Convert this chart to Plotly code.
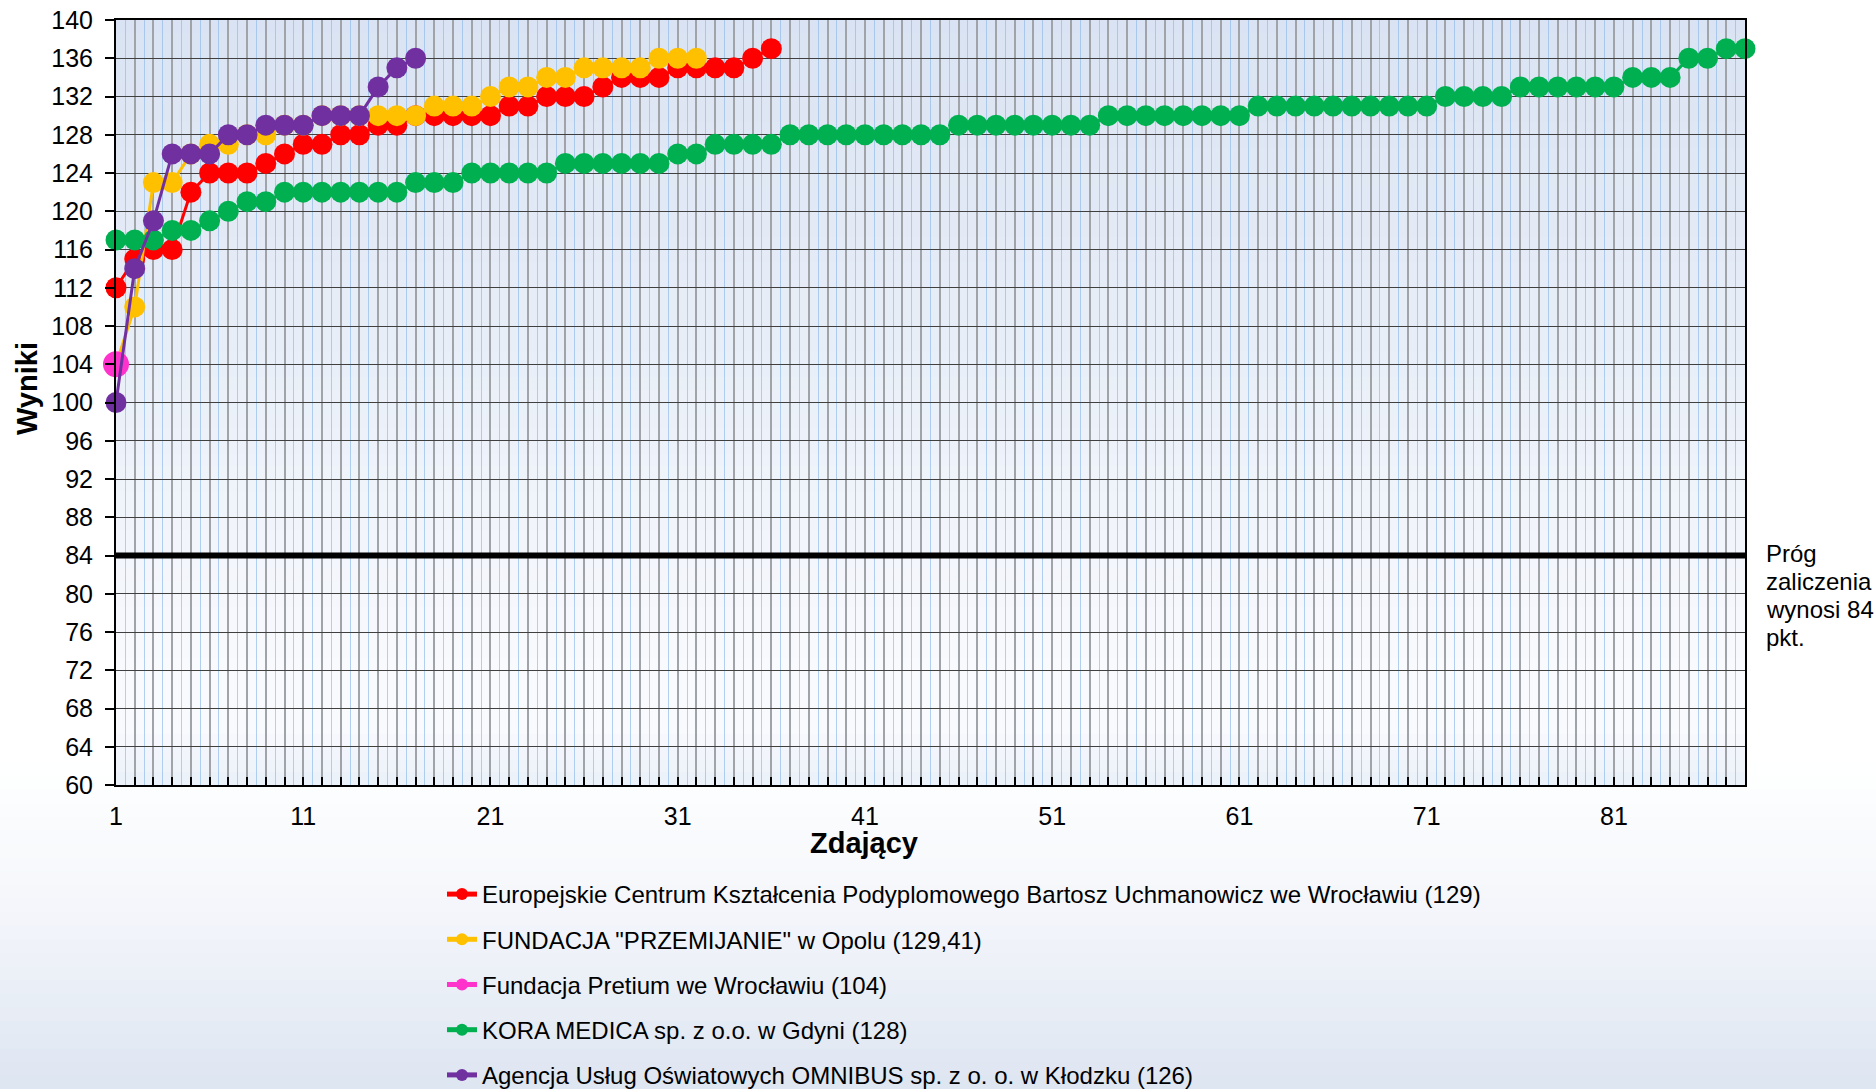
import plotly.graph_objects as go

# ---------------- data ----------------
x_max = 88
x_tick_step = 10
y_min, y_max, y_step = 60, 140, 4
threshold = 84
threshold_lines = ["Próg", "zaliczenia", "wynosi 84", "pkt."]

names = [
    "Europejskie Centrum Kształcenia Podyplomowego Bartosz Uchmanowicz we Wrocławiu (129)",
    'FUNDACJA "PRZEMIJANIE" w Opolu (129,41)',
    "Fundacja Pretium we Wrocławiu (104)",
    "KORA MEDICA sp. z o.o. w Gdyni (128)",
    "Agencja Usług Oświatowych OMNIBUS sp. z o. o. w Kłodzku (126)",
]

red = [112, 115, 116, 116, 122, 124, 124, 124, 125, 126, 127, 127, 128, 128, 129, 129,
       130, 130, 130, 130, 130, 131, 131, 132, 132, 132, 133, 134, 134, 134, 135, 135,
       135, 135, 136, 137]
yellow = [104, 110, 123, 123, 126, 127, 127, 128, 128, 129, 129, 130, 130, 130, 130, 130,
          130, 131, 131, 131, 132, 133, 133, 134, 134, 135, 135, 135, 135, 136, 136, 136]
pink = [104]
green = [117, 117, 117, 118, 118, 119, 120, 121, 121,
         122, 122, 122, 122, 122, 122, 122,
         123, 123, 123,
         124, 124, 124, 124, 124,
         125, 125, 125, 125, 125, 125,
         126, 126,
         127, 127, 127, 127,
         128, 128, 128, 128, 128, 128, 128, 128, 128,
         129, 129, 129, 129, 129, 129, 129, 129,
         130, 130, 130, 130, 130, 130, 130, 130,
         131, 131, 131, 131, 131, 131, 131, 131, 131, 131,
         132, 132, 132, 132,
         133, 133, 133, 133, 133, 133,
         134, 134, 134,
         136, 136,
         137, 137]
purple = [100, 114, 119, 126, 126, 126, 128, 128, 129, 129, 129, 130, 130, 130, 133, 135, 136]

series = [red, yellow, pink, green, purple]
colors = ["#FF0000", "#FFC000", "#FF33CC", "#00B050", "#7030A0"]
marker_sizes = [21, 21, 26, 21, 21]

# ---------------- figure ----------------
W, H = 1876, 1089
L, R, T, B = 116, 131, 20, 304
plot_w = W - L - R
plot_h = H - T - B


def px2x(px):
    return (px - L) / plot_w


def py2paper(py):
    return (H - B - py) / plot_h


def lerp(c1, c2, t):
    return tuple(round(a + (b - a) * t) for a, b in zip(c1, c2))


def grad(stops, t):
    for (t0, c0), (t1, c1) in zip(stops, stops[1:]):
        if t0 <= t <= t1:
            return lerp(c0, c1, (t - t0) / (t1 - t0) if t1 > t0 else 0)
    return stops[-1][1]


shapes = []
# page background gradient
page_stops = [(0.0, (255, 255, 255)), (0.70, (255, 255, 255)), (0.85, (242, 245, 250)),
              (1.0, (221, 229, 241))]
n = 80
for i in range(n):
    t0, t1 = i / n, (i + 1) / n
    c = grad(page_stops, (t0 + t1) / 2)
    shapes.append(dict(type="rect", xref="paper", yref="paper", layer="below",
                       x0=px2x(-2), x1=px2x(W + 2),
                       y0=py2paper(t1 * H + 1), y1=py2paper(t0 * H),
                       line=dict(width=0), fillcolor="rgb(%d,%d,%d)" % c))
# plot-area gradient
plot_stops = [(0.0, (218, 227, 243)), (0.45, (233, 239, 248)), (0.86, (249, 250, 254)),
              (0.93, (248, 250, 254)), (1.0, (234, 241, 250))]
n = 60
for i in range(n):
    t0, t1 = i / n, (i + 1) / n
    c = grad(plot_stops, (t0 + t1) / 2)
    shapes.append(dict(type="rect", xref="paper", yref="paper", layer="below",
                       x0=0, x1=1, y0=1 - t1 - 0.002, y1=1 - t0,
                       line=dict(width=0), fillcolor="rgb(%d,%d,%d)" % c))

fig = go.Figure()

# threshold line
fig.add_trace(go.Scatter(x=[1, x_max], y=[threshold, threshold], mode="lines",
                         line=dict(color="black", width=6), showlegend=False,
                         hoverinfo="skip", cliponaxis=False))

for i, (vals, name, col, ms) in enumerate(zip(series, names, colors, marker_sizes)):
    xs = list(range(1, len(vals) + 1))
    fig.add_trace(go.Scatter(
        x=xs, y=vals, name=name, mode="lines+markers",
        line=dict(color=col, width=3),
        marker=dict(color=col, size=ms, line=dict(width=0)),
        legendgroup="g%d" % i, cliponaxis=False,
    ))

tickvals = list(range(1, x_max + 1))
ticktext = [str(v) if (v - 1) % x_tick_step == 0 else "" for v in tickvals]

annotations = [
    dict(text="<b>Wyniki</b>", xref="paper", yref="paper",
         x=px2x(27), y=py2paper(389), textangle=-90,
         showarrow=False, font=dict(size=29), xanchor="center", yanchor="middle"),
    dict(text="<b>Zdający</b>", xref="paper", yref="paper",
         x=px2x(864), y=py2paper(843),
         showarrow=False, font=dict(size=29), xanchor="center", yanchor="middle"),
]
for k, line in enumerate(threshold_lines):
    annotations.append(dict(text=line, xref="paper", yref="paper",
                            x=px2x(1764), y=py2paper(553 + 28 * k), xanchor="left",
                            yanchor="middle", align="left", showarrow=False,
                            font=dict(size=24)))

fig.update_layout(
    width=W, height=H,
    margin=dict(l=L, r=R, t=T, b=B, autoexpand=False),
    paper_bgcolor="white",
    plot_bgcolor="rgba(0,0,0,0)",
    font=dict(family="Liberation Sans, Arial, sans-serif", color="black"),
    shapes=shapes,
    showlegend=True,
    legend=dict(
        x=px2x(442), xanchor="left",
        y=py2paper(872), yanchor="top",
        font=dict(size=24, color="black"),
        bgcolor="rgba(0,0,0,0)",
        tracegroupgap=11,
        itemsizing="constant",
    ),
    xaxis=dict(
        range=[1, x_max],
        tickmode="array", tickvals=tickvals, ticktext=ticktext,
        ticks="inside", ticklen=8, tickwidth=1.5, tickcolor="black",
        tickfont=dict(size=25),
        ticklabelstandoff=8,
        showgrid=True, gridcolor="#a0a4a8", gridwidth=1.6,
        minor=dict(tickmode="array", tickvals=[v + 0.5 for v in tickvals[:-1]],
                   showgrid=True, gridcolor="rgba(140,185,232,0.65)", gridwidth=1, ticks=""),
        showline=True, linecolor="black", linewidth=2, mirror=True,
        zeroline=False,
    ),
    yaxis=dict(
        range=[y_min, y_max], dtick=y_step, tick0=y_min,
        ticks="outside", ticklen=9, tickwidth=1.5, tickcolor="black",
        tickfont=dict(size=25),
        ticklabelstandoff=7,
        showgrid=True, gridcolor="#404040", gridwidth=1.3,
        showline=True, linecolor="black", linewidth=2, mirror=True,
        zeroline=False,
    ),
    annotations=annotations,
)

fig.write_html("out.html", config={"displayModeBar": False},
               post_script="document.body.style.margin='0';")
